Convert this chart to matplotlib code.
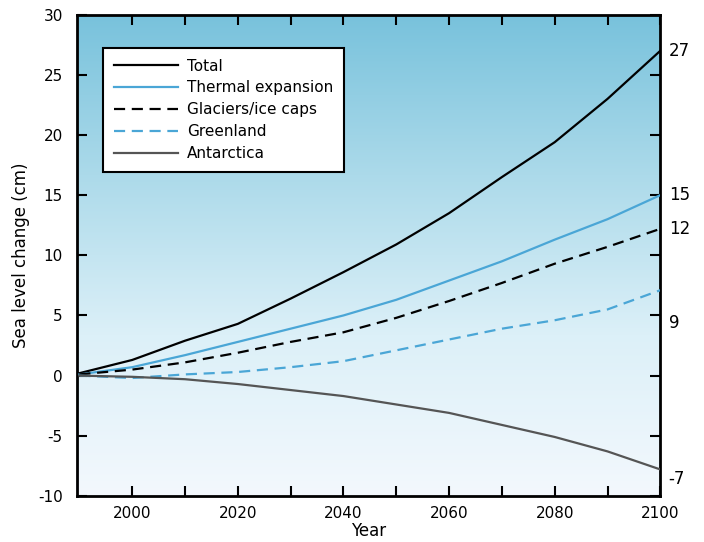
import numpy as np
import matplotlib
matplotlib.use("Agg")
import matplotlib.pyplot as plt
from matplotlib.colors import LinearSegmentedColormap

plt.rcParams["axes.unicode_minus"] = False

years = [1990, 2000, 2010, 2020, 2030, 2040, 2050, 2060, 2070, 2080, 2090, 2100]
total = [0.2, 1.3, 2.9, 4.3, 6.4, 8.6, 10.9, 13.5, 16.5, 19.4, 23.0, 27.0]
thermal = [0.1, 0.7, 1.7, 2.8, 3.9, 5.0, 6.3, 7.9, 9.5, 11.3, 13.0, 15.0]
glaciers = [0.1, 0.5, 1.1, 1.9, 2.8, 3.6, 4.8, 6.2, 7.7, 9.3, 10.7, 12.2]
greenland = [0.0, -0.2, 0.1, 0.3, 0.7, 1.2, 2.1, 3.0, 3.9, 4.6, 5.5, 7.1]
antarctica = [0.0, -0.1, -0.3, -0.7, -1.2, -1.7, -2.4, -3.1, -4.1, -5.1, -6.3, -7.8]

end_labels = ["27", "15", "12", "9", "-7"]
end_label_y = [27.0, 15.0, 12.2, 4.4, -8.6]

fig = plt.figure(figsize=(7.04, 5.42), dpi=100)
ax = fig.add_axes([0.109, 0.085, 0.829, 0.888])

x0, x1, y0, y1 = 1989.5, 2100, -10, 30
ax.set_xlim(x0, x1)
ax.set_ylim(y0, y1)

# background gradient
cmap = LinearSegmentedColormap.from_list("bg", ["#f3f8fd", "#dcf0f8", "#acdaea", "#78c2dc"])
grad = np.linspace(0, 1, 256).reshape(-1, 1)
ax.imshow(grad, extent=[x0, x1, y0, y1], aspect="auto", origin="lower",
          cmap=cmap, zorder=0, interpolation="bicubic")

blue = "#4aa6d6"
ax.plot(years, total, color="black", lw=1.6, label="Total", zorder=3)
ax.plot(years, thermal, color=blue, lw=1.6, label="Thermal expansion", zorder=3)
ax.plot(years, glaciers, color="black", lw=1.6, ls=(0, (5, 3)), label="Glaciers/ice caps", zorder=3)
ax.plot(years, greenland, color=blue, lw=1.6, ls=(0, (5, 3)), label="Greenland", zorder=3)
ax.plot(years, antarctica, color="#555555", lw=1.6, label="Antarctica", zorder=3)

for lab, yv in zip(end_labels, end_label_y):
    ax.annotate(lab, xy=(1.0, yv), xycoords=("axes fraction", "data"),
                xytext=(6, 0), textcoords="offset points",
                va="center", ha="left", fontsize=12, annotation_clip=False)

ax.set_xticks(np.arange(2000, 2101, 10))
ax.set_xticklabels([str(y) if y % 20 == 0 else "" for y in range(2000, 2101, 10)])
ax.set_yticks(np.arange(-10, 31, 5))
ax.tick_params(direction="in", length=7, width=1.5, top=True, right=True,
               labelsize=11)
ax.tick_params(axis="y", pad=10)
ax.tick_params(axis="x", pad=7)
for s in ax.spines.values():
    s.set_linewidth(2)

ax.set_xlabel("Year", fontsize=12, labelpad=1)
ax.set_ylabel("Sea level change (cm)", fontsize=12, labelpad=6)

leg = ax.legend(loc="upper left", bbox_to_anchor=(0.045, 0.931), fontsize=11,
                frameon=True, fancybox=False, edgecolor="black", framealpha=1,
                handlelength=4.2, handletextpad=0.6, borderpad=0.7,
                labelspacing=0.45, borderaxespad=0)
leg.get_frame().set_linewidth(1.5)

fig.savefig("out.png", dpi=100)
